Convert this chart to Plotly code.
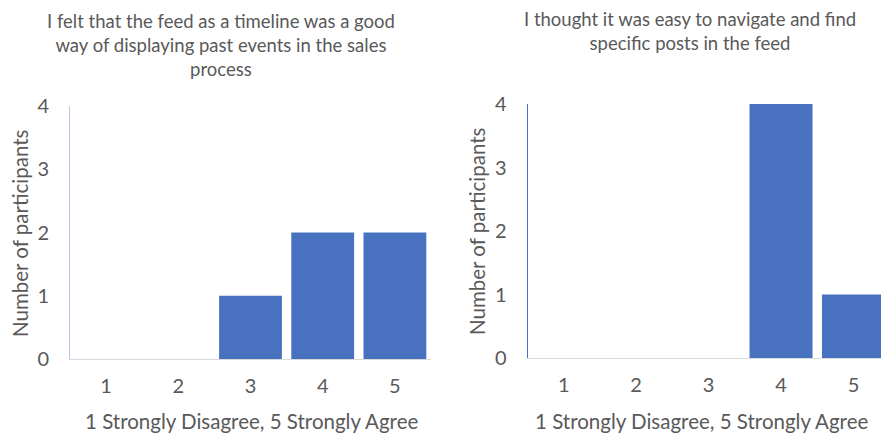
import plotly.graph_objects as go

# Likert scale categories and response counts
categories = [1, 2, 3, 4, 5]
timeline_counts = [0, 0, 1, 2, 2]
navigation_counts = [0, 0, 0, 4, 1]
y_ticks = [0, 1, 2, 3, 4]

title_left = "I felt that the feed as a timeline was a good<br>way of displaying past events in the sales<br>process"
title_right = "I thought it was easy to navigate and find<br>specific posts in the feed"
x_title = "1 Strongly Disagree, 5 Strongly Agree"
y_title = "Number of participants"

BAR = "#4872C0"
TEXT = "#595959"
FONT = "Lato"
W, H = 881, 433

fig = go.Figure()
fig.add_trace(go.Bar(x=categories, y=timeline_counts,
                     marker=dict(color=BAR, line=dict(width=0)),
                     xaxis="x", yaxis="y", showlegend=False))
fig.add_trace(go.Bar(x=categories, y=navigation_counts,
                     marker=dict(color=BAR, line=dict(width=0)),
                     xaxis="x2", yaxis="y2", showlegend=False))

def px_x(p):
    return p / W

def px_y(p):
    return 1 - p / H

tick_font = dict(family=FONT, size=20, color=TEXT)

common_x = dict(tickmode="array", tickvals=categories, ticks="", showgrid=False,
                zeroline=False, showline=True, linecolor="#d9d9d9", linewidth=1,
                tickfont=tick_font, ticklabelstandoff=9, fixedrange=True,
                automargin=False)
common_y = dict(range=[0, 4], tickmode="array", tickvals=y_ticks, ticks="",
                showgrid=False, zeroline=False, showline=True, linewidth=1,
                tickfont=tick_font, ticklabelstandoff=16, fixedrange=True,
                automargin=False)

fig.update_layout(
    width=W, height=H,
    margin=dict(l=0, r=0, t=0, b=0, autoexpand=False),
    paper_bgcolor="white", plot_bgcolor="white",
    bargap=0.13,
    xaxis=dict(domain=[px_x(70), px_x(431)], range=[0.5, 5.5], anchor="y", **common_x),
    yaxis=dict(domain=[px_y(359), px_y(106)], anchor="x", linecolor="#b4c7e7", **common_y),
    xaxis2=dict(domain=[px_x(527.5), 1], range=[0.5, 5.38], anchor="y2", **common_x),
    yaxis2=dict(domain=[px_y(358), px_y(104)], anchor="x2", linecolor="#4472C4", **common_y),
)

ann_font = dict(family=FONT, size=20.5, color=TEXT)
title_font = dict(family=FONT, size=18.5, color=TEXT)
annotations = [
    dict(text=title_left, x=px_x(221), y=px_y(8), xanchor="center", yanchor="top",
         font=title_font),
    dict(text=title_right, x=px_x(690), y=px_y(6), xanchor="center", yanchor="top",
         font=title_font),
    dict(text=x_title, x=px_x(251), y=px_y(421), xanchor="center", yanchor="middle",
         font=ann_font),
    dict(text=x_title, x=px_x(701), y=px_y(421), xanchor="center", yanchor="middle",
         font=ann_font),
    dict(text=y_title, x=px_x(20), y=px_y(233), xanchor="center", yanchor="middle",
         textangle=-90, font=ann_font),
    dict(text=y_title, x=px_x(477), y=px_y(231), xanchor="center", yanchor="middle",
         textangle=-90, font=ann_font),
]
for a in annotations:
    a.update(xref="paper", yref="paper", showarrow=False)
fig.update_layout(annotations=annotations)

fig.write_html("out.html")
